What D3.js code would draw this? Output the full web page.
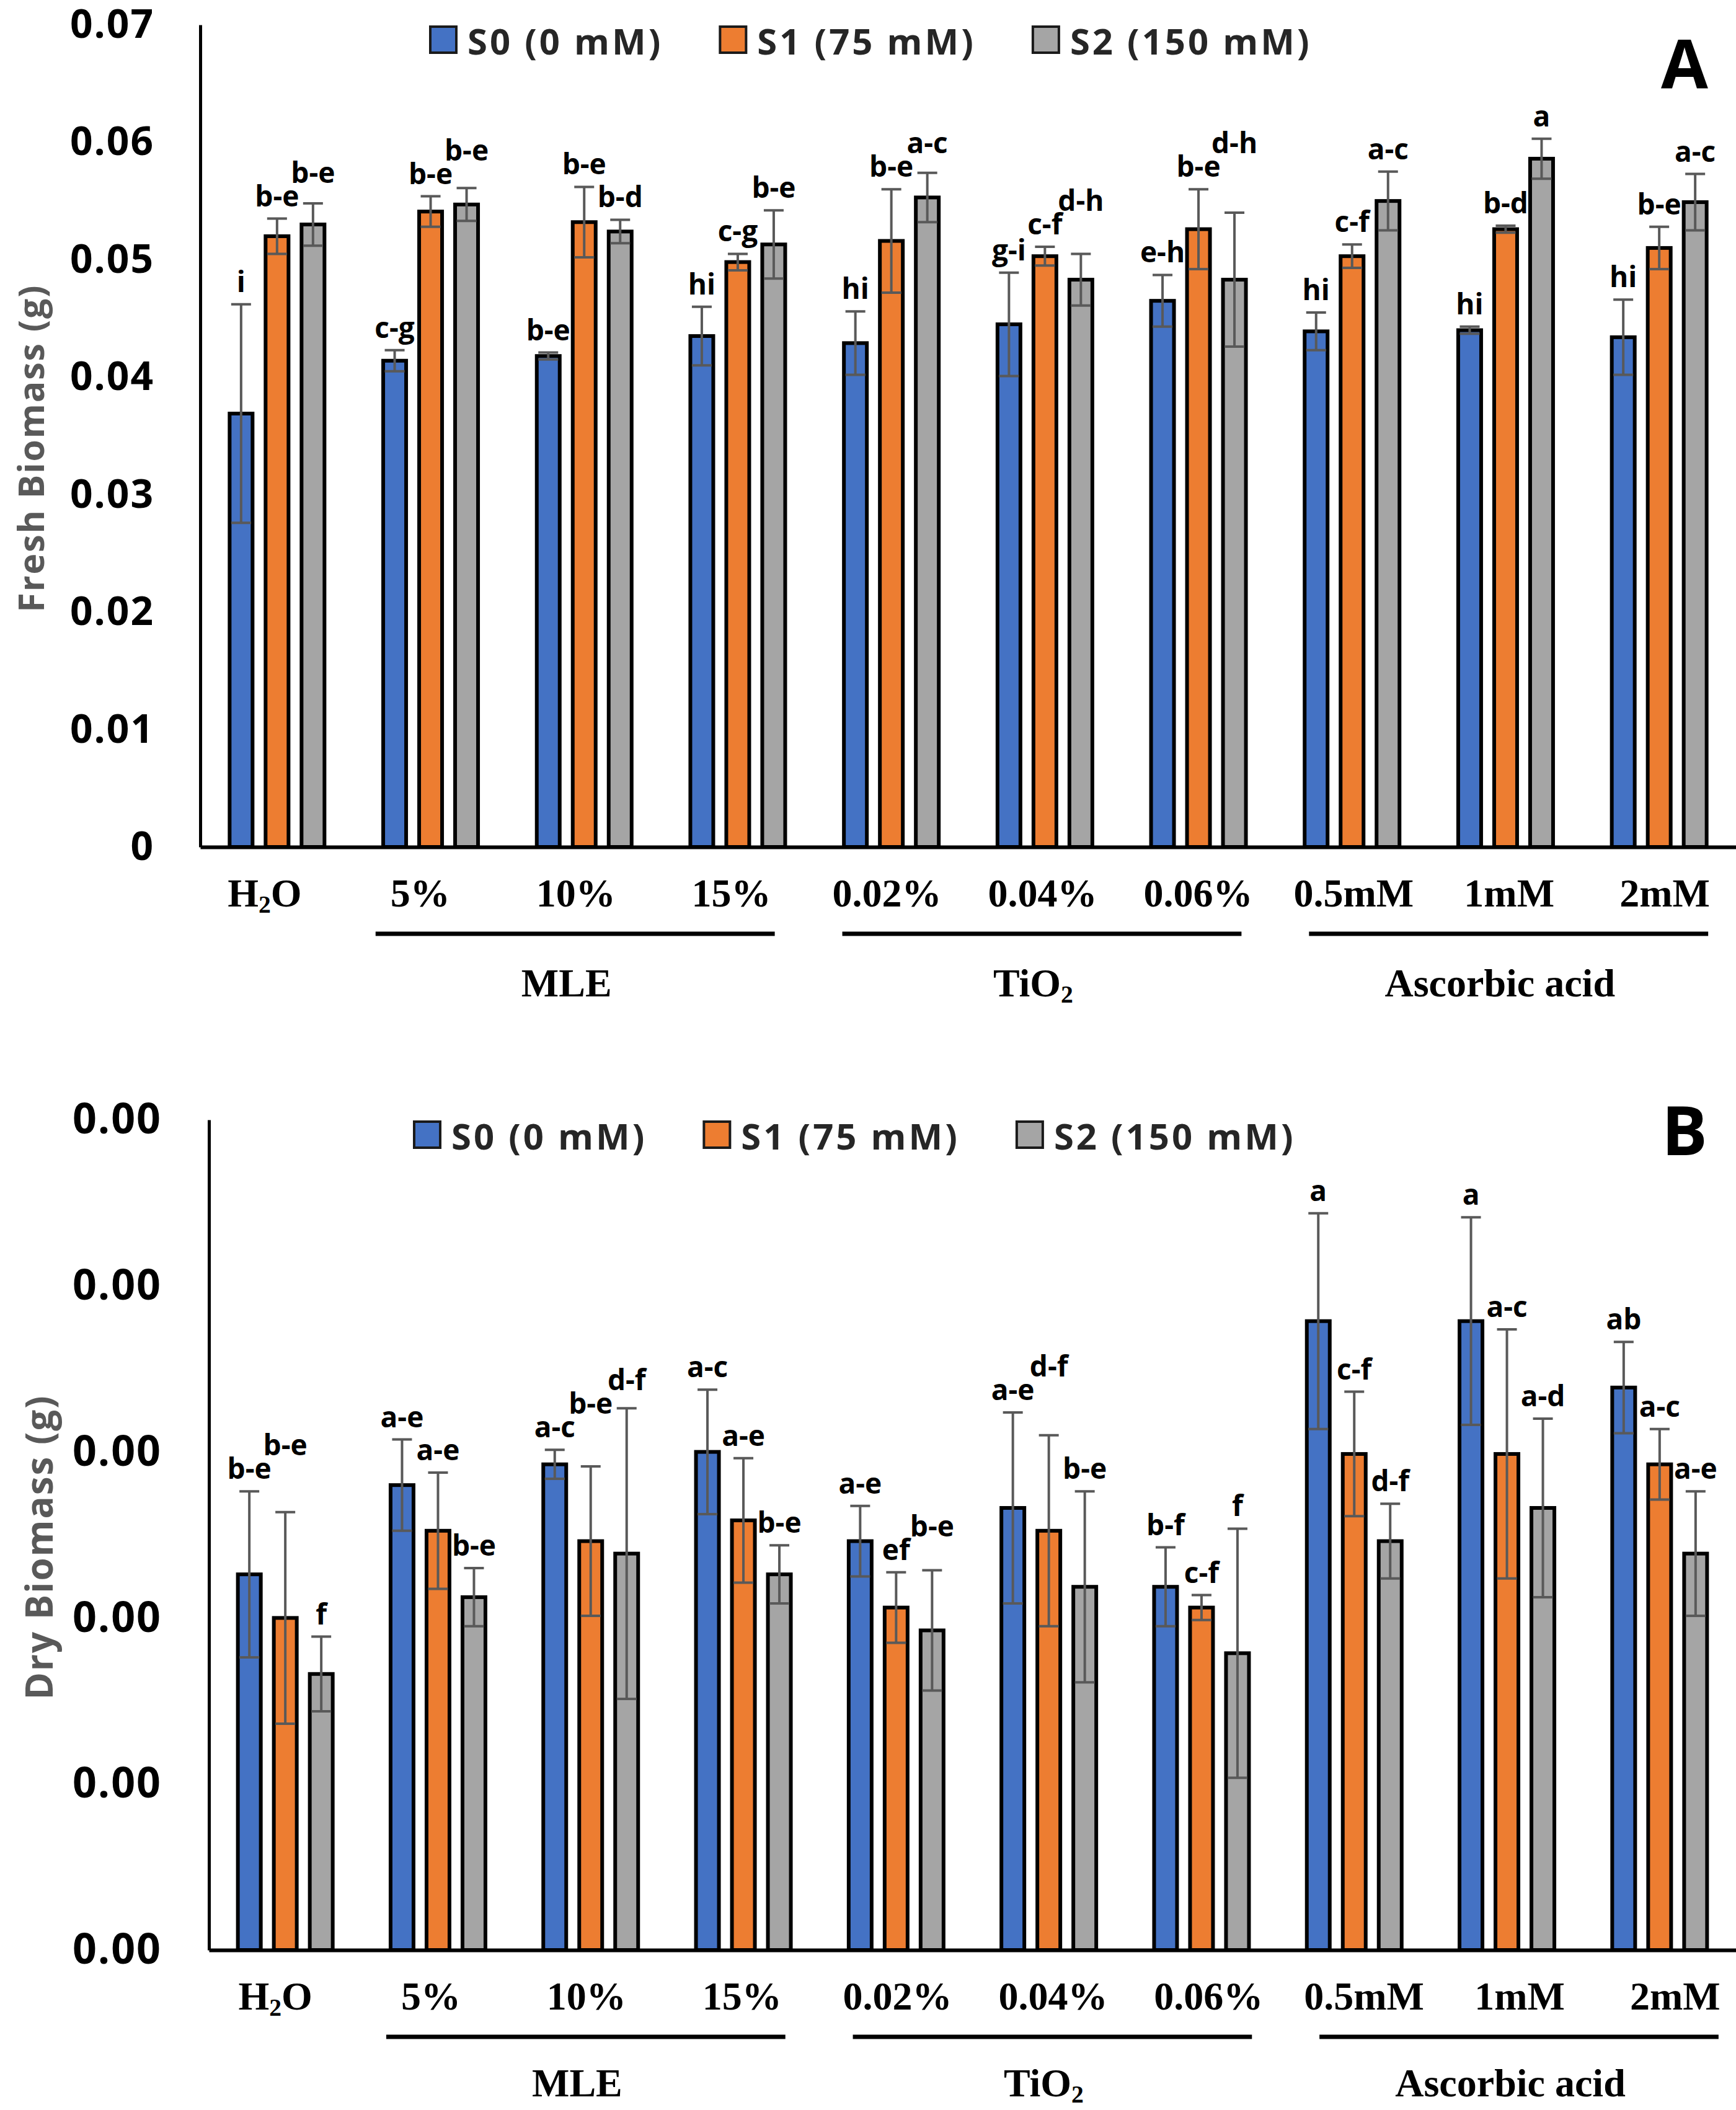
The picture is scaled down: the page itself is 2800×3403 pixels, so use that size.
<!DOCTYPE html>
<html>
<head>
<meta charset="utf-8">
<script src="https://cdn.jsdelivr.net/npm/d3@7"></script>
<style>
  body { margin: 0; background: #fff; }
  svg { display: block; }
</style>
</head>
<body>
<svg id="chart" width="2800" height="3403"></svg>
<script>
// categories and series
var categories = ["H2O", "5%", "10%", "15%", "0.02%", "0.04%", "0.06%", "0.5mM", "1mM", "2mM"];
var series = ["S0 (0 mM)", "S1 (75 mM)", "S2 (150 mM)"];
var colors = ["#4472C4", "#ED7D31", "#A5A5A5"];
var groups = [
  {label: "MLE", first: "5%", last: "15%"},
  {label: "TiO2", first: "0.02%", last: "0.06%"},
  {label: "Ascorbic acid", first: "0.5mM", last: "2mM"}
];

// panel A - fresh biomass (g)
var freshS0 = [0.0369, 0.0414, 0.0418, 0.0435, 0.0429, 0.0445, 0.0465, 0.0439, 0.0440, 0.0434];
var freshS1 = [0.0520, 0.0541, 0.0532, 0.0498, 0.0516, 0.0503, 0.0526, 0.0503, 0.0526, 0.0510];
var freshS2 = [0.0530, 0.0547, 0.0524, 0.0513, 0.0553, 0.0483, 0.0483, 0.0550, 0.0586, 0.0549];
var freshErrS0 = [0.0093, 0.0009, 0.0003, 0.0025, 0.0027, 0.0044, 0.0022, 0.0016, 0.0003, 0.0032];
var freshErrS1 = [0.0015, 0.0013, 0.0030, 0.0007, 0.0044, 0.0008, 0.0034, 0.0010, 0.0003, 0.0018];
var freshErrS2 = [0.0018, 0.0014, 0.0010, 0.0029, 0.0021, 0.0022, 0.0057, 0.0025, 0.0017, 0.0024];
var freshLetS0 = ["i", "c-g", "b-e", "hi", "hi", "g-i", "e-h", "hi", "hi", "hi"];
var freshLetS1 = ["b-e", "b-e", "b-e", "c-g", "b-e", "c-f", "b-e", "c-f", "b-d", "b-e"];
var freshLetS2 = ["b-e", "b-e", "b-d", "b-e", "a-c", "d-h", "d-h", "a-c", "a", "a-c"];
var freshTicks = [0, 0.01, 0.02, 0.03, 0.04, 0.05, 0.06, 0.07];

// panel B - dry biomass (g); every tick prints as 0.00 at two decimals
var dryS0 = [0.00181, 0.00224, 0.00234, 0.00240, 0.00197, 0.00213, 0.00175, 0.00303, 0.00303, 0.00271];
var dryS1 = [0.00160, 0.00202, 0.00197, 0.00207, 0.00165, 0.00202, 0.00165, 0.00239, 0.00239, 0.00234];
var dryS2 = [0.00133, 0.00170, 0.00191, 0.00181, 0.00154, 0.00175, 0.00143, 0.00197, 0.00213, 0.00191];
var dryErrS0 = [0.00040, 0.00022, 0.00007, 0.00030, 0.00017, 0.00046, 0.00019, 0.00052, 0.00050, 0.00022];
var dryErrS1 = [0.00051, 0.00028, 0.00036, 0.00030, 0.00017, 0.00046, 0.00006, 0.00030, 0.00060, 0.00017];
var dryErrS2 = [0.00018, 0.00014, 0.00070, 0.00014, 0.00029, 0.00046, 0.00060, 0.00018, 0.00043, 0.00030];
var dryLetS0 = ["b-e", "a-e", "a-c", "a-c", "a-e", "a-e", "b-f", "a", "a", "ab"];
var dryLetS1 = ["b-e", "a-e", "b-e", "a-e", "ef", "d-f", "c-f", "c-f", "a-c", "a-c"];
var dryLetS2 = ["f", "b-e", "d-f", "b-e", "b-e", "b-e", "f", "d-f", "a-d", "a-e"];
var dryTicks = [0, 0.0008, 0.0016, 0.0024, 0.0032, 0.0040];

var sans = "'Open Sans', 'DejaVu Sans', sans-serif";
var serif = "'Liberation Serif', 'Times New Roman', serif";

var svg = d3.select("#chart");

// H2O -> H<sub>2</sub>O, TiO2 -> TiO<sub>2</sub>
function richText(sel, str) {
  var m = str.match(/^([A-Za-z]+)(\d)([A-Za-z]*)$/);
  if (!m) { sel.text(str); return; }
  sel.append("tspan").text(m[1]);
  sel.append("tspan").attr("font-size", "62%").attr("dy", "0.26em").text(m[2]);
  if (m[3]) sel.append("tspan").attr("dy", "-0.16em").text(m[3]);
}

function drawPanel(p) {
  var g = svg.append("g");

  var x = d3.scaleBand().domain(categories).range([p.left, 2800]);
  var xs = d3.scalePoint().domain(series).range([-58, 58]);
  var y = d3.scaleLinear().domain([0, p.max]).range([p.bottom, p.top]);
  var barW = 37;
  var center = function(c) { return x(c) + x.bandwidth() / 2; };
  // tick labels sit slightly spread compared with the bars
  var labShift = d3.scaleLinear().domain([0, categories.length - 1]).range(p.labOff);
  var labX = function(c) { return center(c) + labShift(categories.indexOf(c)); };

  // y axis
  g.append("g")
    .attr("transform", "translate(" + p.left + ",0)")
    .call(d3.axisLeft(y).tickValues(p.ticks).tickSize(0).tickSizeOuter(0)
      .tickPadding(p.tickPad).tickFormat(p.fmt))
    .call(function(a) {
      a.select(".domain").attr("stroke", "#000").attr("stroke-width", 5);
      a.selectAll("text")
        .attr("font-family", sans).attr("font-weight", "bold")
        .attr("font-size", p.tickFont).attr("letter-spacing", 2).attr("fill", "#000");
    });

  // bars
  var rows = [];
  categories.forEach(function(c, ci) {
    series.forEach(function(s, si) {
      rows.push({cat: c, s: s, si: si, v: p.values[si][ci], e: p.errors[si][ci], l: p.letters[si][ci]});
    });
  });

  g.selectAll("rect.bar").data(rows).enter().append("rect")
    .attr("class", "bar")
    .attr("x", function(d) { return center(d.cat) + xs(d.s) - barW / 2; })
    .attr("y", function(d) { return y(d.v); })
    .attr("width", barW)
    .attr("height", function(d) { return y(0) - y(d.v); })
    .attr("fill", function(d) { return colors[d.si]; })
    .attr("stroke", "#000")
    .attr("stroke-width", 6);

  // x axis line
  g.append("g")
    .attr("transform", "translate(0," + p.bottom + ")")
    .call(d3.axisBottom(x).tickSize(0).tickSizeOuter(0).tickFormat(""))
    .select(".domain").attr("stroke", "#000").attr("stroke-width", 6);

  // error bars
  var eb = g.selectAll("g.err").data(rows).enter().append("g")
    .attr("class", "err")
    .attr("stroke", "#595959").attr("stroke-width", 4);
  eb.append("line")
    .attr("x1", function(d) { return center(d.cat) + xs(d.s); })
    .attr("x2", function(d) { return center(d.cat) + xs(d.s); })
    .attr("y1", function(d) { return y(d.v - d.e); })
    .attr("y2", function(d) { return y(d.v + d.e); });
  [-1, 1].forEach(function(sign) {
    eb.append("line")
      .attr("x1", function(d) { return center(d.cat) + xs(d.s) - 16; })
      .attr("x2", function(d) { return center(d.cat) + xs(d.s) + 16; })
      .attr("y1", function(d) { return y(d.v + sign * d.e); })
      .attr("y2", function(d) { return y(d.v + sign * d.e); });
  });

  // significance letters; a letter that would collide with its left neighbour is lifted
  var prev = null;
  g.selectAll("text.let").data(rows).enter().append("text")
    .attr("class", "let")
    .attr("x", function(d) { return center(d.cat) + xs(d.s); })
    .attr("y", function(d) { return y(d.v + d.e) - 20; })
    .attr("text-anchor", "middle")
    .attr("font-family", sans).attr("font-weight", "bold").attr("font-size", 46)
    .attr("fill", "#000")
    .text(function(d) { return d.l; })
    .each(function(d) {
      var t = d3.select(this);
      var w = this.getComputedTextLength();
      var cx = +t.attr("x"), base = +t.attr("y");
      if (prev && prev.cat === d.cat && Math.abs(cx - prev.cx) < (w + prev.w) / 2 + 4) {
        if (base > prev.base - 38 && base < prev.base + 38) {
          base = prev.base - 38;
          t.attr("y", base);
        }
      }
      prev = {cat: d.cat, cx: cx, w: w, base: base};
    });

  // category labels
  g.selectAll("text.cat").data(categories).enter().append("text")
    .attr("class", "cat")
    .attr("x", labX)
    .attr("y", p.bottom + 96)
    .attr("text-anchor", "middle")
    .attr("font-family", serif).attr("font-weight", "bold").attr("font-size", 64)
    .each(function(d) { richText(d3.select(this), d); });

  // treatment groups
  var gg = g.selectAll("g.grp").data(groups).enter().append("g").attr("class", "grp");
  gg.append("line")
    .attr("x1", function(d) { return labX(d.first) - 72; })
    .attr("x2", function(d) { return labX(d.last) + 70; })
    .attr("y1", p.bottom + 140).attr("y2", p.bottom + 140)
    .attr("stroke", "#000").attr("stroke-width", 7);
  gg.append("text")
    .attr("x", function(d) { return (labX(d.first) - 72 + labX(d.last) + 70) / 2 - 14; })
    .attr("y", p.bottom + p.groupDy)
    .attr("text-anchor", "middle")
    .attr("font-family", serif).attr("font-weight", "bold").attr("font-size", 64)
    .each(function(d) { richText(d3.select(this), d.label); });

  // y title
  g.append("text")
    .attr("transform", "translate(" + p.titleX + "," + ((p.top + p.bottom) / 2 + 20) + ") rotate(-90)")
    .attr("text-anchor", "middle")
    .attr("dominant-baseline", "central")
    .attr("font-family", sans).attr("font-weight", "bold").attr("font-size", p.titleFont)
    .attr("letter-spacing", 2)
    .attr("fill", "#595959")
    .text(p.title);

  // legend
  var lx = p.legendX;
  series.forEach(function(s, si) {
    g.append("rect")
      .attr("x", lx).attr("y", p.top + 3)
      .attr("width", 42).attr("height", 42)
      .attr("fill", colors[si]).attr("stroke", "#1a1a1a").attr("stroke-width", 4);
    var t = g.append("text")
      .attr("x", lx + 60).attr("y", p.top + 48)
      .attr("font-family", sans).attr("font-weight", "bold").attr("font-size", 58)
      .attr("letter-spacing", 4)
      .attr("fill", "#262626")
      .text(s);
    lx += 60 + t.node().getComputedTextLength() + 92;
  });

  // panel letter
  g.append("text")
    .attr("x", 2717).attr("y", p.letterY)
    .attr("text-anchor", "middle")
    .attr("font-family", sans).attr("font-weight", "bold").attr("font-size", 110)
    .attr("fill", "#000")
    .text(p.letter);
}

drawPanel({
  left: 323, top: 40, bottom: 1366, max: 0.07, ticks: freshTicks,
  fmt: function(d) { return d === 0 ? "0" : d3.format(".2f")(d); },
  tickPad: 74, tickFont: 64,
  values: [freshS0, freshS1, freshS2],
  errors: [freshErrS0, freshErrS1, freshErrS2],
  letters: [freshLetS0, freshLetS1, freshLetS2],
  labOff: [-20, 9], groupDy: 241,
  title: "Fresh Biomass (g)", titleX: 49, titleFont: 57,
  legendX: 694, letter: "A", letterY: 143
});

drawPanel({
  left: 337, top: 1806, bottom: 3145, max: 0.004, ticks: dryTicks,
  fmt: d3.format(".2f"),
  tickPad: 76, tickFont: 68,
  values: [dryS0, dryS1, dryS2],
  errors: [dryErrS0, dryErrS1, dryErrS2],
  letters: [dryLetS0, dryLetS1, dryLetS2],
  labOff: [-16, 25], groupDy: 236,
  title: "Dry Biomass (g)", titleX: 62, titleFont: 60,
  legendX: 668, letter: "B", letterY: 1863
});
</script>
</body>
</html>
